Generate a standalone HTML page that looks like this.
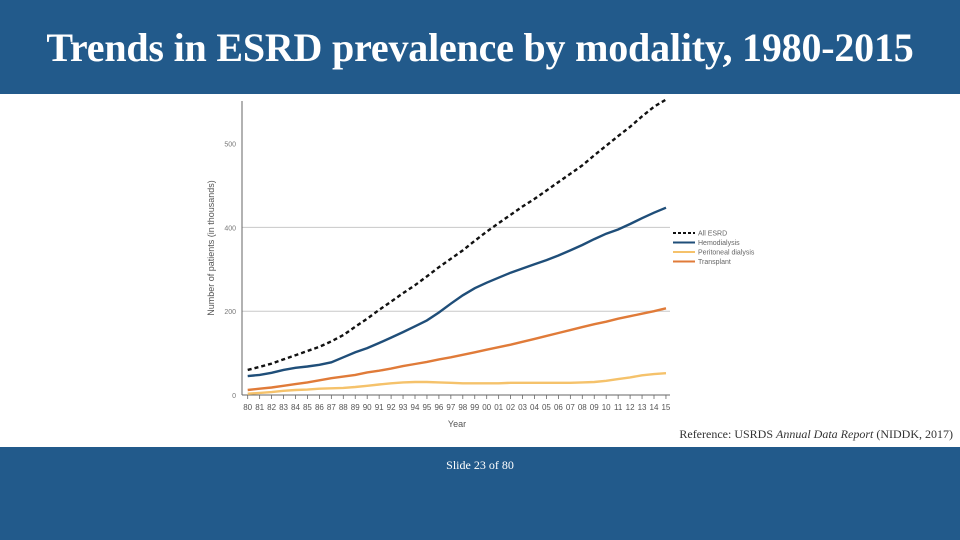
<!DOCTYPE html>
<html><head><meta charset="utf-8"><style>
body{margin:0;width:960px;height:540px;overflow:hidden;background:#fff;font-family:"Liberation Serif",serif;position:relative}
#hdr{position:absolute;left:0;top:0;width:960px;height:94px;background:#225a8b}
#title{position:absolute;left:0;top:24px;width:960px;text-align:center;color:#fff;font-size:40px;font-weight:bold;line-height:48px;letter-spacing:-0.2px}
#ftr{position:absolute;left:0;top:447px;width:960px;height:93px;background:#225a8b}
#slide{position:absolute;left:0;top:458px;width:960px;text-align:center;color:#fff;font-size:12px}
#ref{position:absolute;right:7px;top:427px;color:#333;font-size:12px}
svg{position:absolute;left:0;top:0}
</style></head><body>
<div id="hdr"></div>
<div id="title">Trends in ESRD prevalence by modality, 1980-2015</div>
<svg id="chart" width="960" height="540"></svg>
<div id="ref">Reference: USRDS <i>Annual Data Report</i> (NIDDK, 2017)</div>
<div id="ftr"></div>
<div id="slide">Slide 23 of 80</div>
<script>
const years=[1980,1981,1982,1983,1984,1985,1986,1987,1988,1989,1990,1991,1992,1993,1994,1995,1996,1997,1998,1999,2000,2001,2002,2003,2004,2005,2006,2007,2008,2009,2010,2011,2012,2013,2014,2015];
const allEsrd=[60,67,75,85,95,105,115,128,143,163,182,203,223,243,262,283,305,325,345,368,390,410,430,450,468,488,508,528,548,572,595,618,640,665,688,705];
const hemo=[45,48,53,60,65,68,72,78,90,102,112,124,137,150,164,178,197,218,238,255,268,280,292,302,312,322,333,345,358,372,385,395,408,422,435,447];
const perit=[3,5,7,10,12,13,15,16,17,19,22,25,28,30,31,31,30,29,28,28,28,28,29,29,29,29,29,29,30,31,34,38,42,47,50,52];
const transp=[12,15,18,22,26,30,35,40,44,48,54,58,63,69,74,79,85,90,96,102,108,114,120,127,134,141,148,155,162,169,175,182,188,194,200,207];
const yTicks=[0,200,400,600];
const yTickLabels=["0","200","400","500"];
const legendLabels=["All ESRD","Hemodialysis","Peritoneal dialysis","Transplant"];
const NS="http://www.w3.org/2000/svg";
const svg=document.getElementById('chart');
const X=y=>247.7+(y-1980)*11.95;
const Y=v=>395-v*0.419;
function mk(t,a){const e=document.createElementNS(NS,t);for(const k in a)e.setAttribute(k,a[k]);svg.appendChild(e);return e;}
yTicks.forEach((t,i)=>{
 if(t>0&&t<600){const g=mk('line',{x1:242,x2:670,y1:Y(t),y2:Y(t),stroke:'#c8c8c8','stroke-width':1});
 
 }
 const l=mk('text',{x:236,y:Y(t)+3,'font-size':7,fill:'#777','text-anchor':'end','font-family':'Liberation Sans, sans-serif'});l.textContent=yTickLabels[i];
 
 
});
const ax=mk('line',{x1:242,x2:242,y1:101,y2:395,stroke:'#666','stroke-width':1});


const bx=mk('line',{x1:242,x2:670,y1:395,y2:395,stroke:'#666','stroke-width':1});


years.forEach(y=>{
 const t=mk('line',{x1:X(y),x2:X(y),y1:395,y2:399,stroke:'#666','stroke-width':0.8});
 
 
 const l=mk('text',{x:X(y),y:410,'font-size':8,fill:'#555','text-anchor':'middle','font-family':'Liberation Sans, sans-serif'});l.textContent=String(y).slice(2);
 
 
});
const xt=mk('text',{x:457,y:427,'font-size':9,fill:'#555','text-anchor':'middle','font-family':'Liberation Sans, sans-serif'});xt.textContent='Year';


const yt=mk('text',{x:0,y:0,'font-size':9,fill:'#555','text-anchor':'middle','font-family':'Liberation Sans, sans-serif',transform:'translate(214,248) rotate(-90)'});yt.textContent='Number of patients (in thousands)';


const series=[[allEsrd,'#111','4 3','all-esrd-line'],[hemo,'#1f4e79','','hemodialysis-line'],[perit,'#f5c26b','','peritoneal-line'],[transp,'#e07b39','','transplant-line']];
series.forEach((s,i)=>{
 const d=s[0].map((v,j)=>(j?'L':'M')+X(years[j]).toFixed(1)+','+Y(v).toFixed(1)).join('');
 const p=mk('path',{d:d,fill:'none',stroke:s[1],'stroke-width':2.4,'stroke-dasharray':s[2]});
 
 
 const ly=233+i*9.5;
 const ll=mk('line',{x1:673,x2:695,y1:ly,y2:ly,stroke:s[1],'stroke-width':2,'stroke-dasharray':s[2]?'3 2':''});
 
 
 const lt=mk('text',{x:698,y:ly+2.5,'font-size':7,fill:'#666','font-family':'Liberation Sans, sans-serif'});lt.textContent=legendLabels[i];
 
 
});
</script>
</body></html>
